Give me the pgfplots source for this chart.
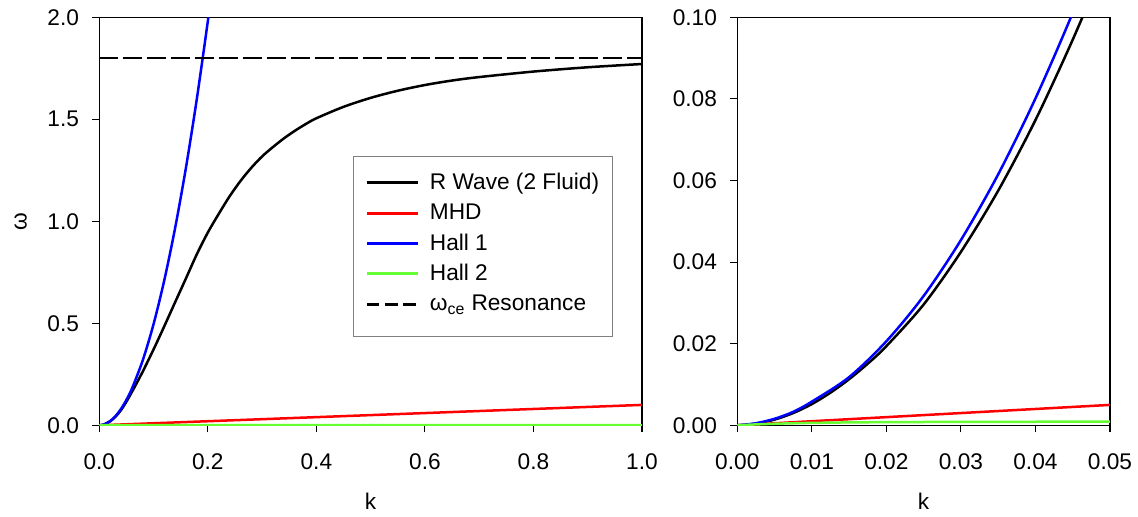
\documentclass[border=0pt]{standalone}
\usepackage{fontspec}
\setmainfont{Liberation Sans}
\usepackage{pgfplots}
\pgfplotsset{compat=1.18}
\definecolor{hallgreen}{RGB}{102,255,51}

\tikzset{curve/.style={line width=1.5pt, smooth}}
\pgfplotsset{
  every axis/.append style={
    font=\fontsize{13.6}{16}\selectfont,
    /pgf/number format/assume math mode=true,
    scale only axis, height=244.8pt,
    axis line style={black, line width=0.7pt},
    tick style={black, line width=0.7pt},
    tick align=outside, tick pos=left,
    major tick length=4.2pt,
    scaled ticks=false,
    clip=true,
    xticklabel style={yshift=-9pt},
    yticklabel style={xshift=-4.5pt},
  },
}

\begin{document}
\begin{tikzpicture}
\useasboundingbox (-59.58pt,-55.02pt) rectangle (623.22pt,255.18pt);

% left panel
\begin{axis}[
  width=325.6pt,
  xmin=0, xmax=1, ymin=0, ymax=2,
  xtick={0,0.2,0.4,0.6,0.8,1.0}, ytick={0,0.5,1.0,1.5,2.0},
  xticklabel style={/pgf/number format/.cd, fixed, fixed zerofill, precision=1},
  yticklabel style={/pgf/number format/.cd, fixed, fixed zerofill, precision=1},
  xlabel={k}, ylabel={ω},
  xlabel style={at={(axis description cs:0.5,-0.187)}, anchor=center},
  ylabel style={at={(axis description cs:-0.145,0.5)}, anchor=center},
  legend style={at={(0.468,0.658)}, anchor=north west, draw=none, fill=none,
                inner xsep=7pt, inner ysep=7.8pt, row sep=3.0pt, column sep=4pt,
                font=\fontsize{13.6}{16}\selectfont},
  legend cell align=left,
  legend image code/.code={\draw[#1] (0pt,0pt) -- (31pt,0pt);},
]
\addplot[curve, black, forget plot] coordinates {
 (0,0) (0.005,0.0014) (0.01,0.0052) (0.02,0.0194) (0.03,0.0425) (0.04,0.0745)
 (0.05,0.116) (0.06,0.163) (0.07,0.212) (0.08,0.263) (0.09,0.317)
 (0.10,0.372) (0.11,0.429) (0.12,0.487) (0.13,0.546) (0.14,0.605)
 (0.16,0.722) (0.18,0.840) (0.20,0.945) (0.22,1.036) (0.24,1.122)
 (0.26,1.197) (0.28,1.262) (0.30,1.318) (0.32,1.364) (0.34,1.406)
 (0.36,1.443) (0.38,1.476) (0.40,1.505) (0.45,1.561) (0.50,1.605)
 (0.55,1.640) (0.60,1.668) (0.65,1.690) (0.70,1.707) (0.80,1.734)
 (0.90,1.755) (1.00,1.771)};
\addplot[line width=1.5pt, red, forget plot] coordinates {(0,0) (1,0.1)};
\addplot[curve, blue, forget plot] coordinates {
 (0,0) (0.005,0.0016) (0.01,0.0058) (0.02,0.0206) (0.03,0.0454) (0.04,0.080)
 (0.05,0.1247) (0.06,0.179) (0.08,0.318) (0.10,0.496) (0.12,0.714)
 (0.14,0.971) (0.16,1.268) (0.18,1.605) (0.20,1.981) (0.21,2.184)};
\addplot[curve, hallgreen, forget plot] coordinates {
 (0,0) (0.005,0.00038) (0.01,0.00059) (0.02,0.00077) (0.05,0.00088)
 (0.2,0.0009) (1,0.0009)};
\addplot[line width=1.5pt, black, dash pattern=on 11pt off 3.4pt, forget plot]
  coordinates {(0,1.8) (1,1.8)};

% legend frame
\draw[black!50, line width=0.5pt]
  (axis description cs:0.468,0.658) rectangle (axis description cs:0.946,0.217);

\addlegendimage{line width=1.8pt, black}
\addlegendentry{R Wave (2 Fluid)}
\addlegendimage{line width=1.8pt, red}
\addlegendentry{MHD}
\addlegendimage{line width=1.8pt, blue}
\addlegendentry{Hall 1}
\addlegendimage{line width=1.8pt, hallgreen}
\addlegendentry{Hall 2}
\addlegendimage{line width=1.8pt, black, dash pattern=on 7.6pt off 3.3pt}
\addlegendentry{ω\textsubscript{ce} Resonance}
\end{axis}

% right panel
\begin{axis}[
  at={(382.8pt,0pt)},
  width=223.6pt,
  xmin=0, xmax=0.05, ymin=0, ymax=0.1,
  xtick={0,0.01,0.02,0.03,0.04,0.05}, ytick={0,0.02,0.04,0.06,0.08,0.10},
  xticklabel style={/pgf/number format/.cd, fixed, fixed zerofill, precision=2},
  yticklabel style={/pgf/number format/.cd, fixed, fixed zerofill, precision=2},
  xlabel={k},
  xlabel style={at={(axis description cs:0.5,-0.187)}, anchor=center},
]
\addplot[curve, black] coordinates {
 (0,0) (0.0025,0.0004) (0.005,0.0014) (0.0075,0.0030) (0.01,0.0052)
 (0.0125,0.0080) (0.015,0.0113) (0.0175,0.0151) (0.02,0.0194)
 (0.025,0.0296) (0.03,0.0425) (0.035,0.0575) (0.04,0.0748)
 (0.045,0.0945) (0.05,0.1160)};
\addplot[line width=1.5pt, red] coordinates {(0,0) (0.05,0.005)};
\addplot[curve, blue] coordinates {
 (0,0) (0.0025,0.0005) (0.005,0.0016) (0.0075,0.0033) (0.01,0.0058)
 (0.015,0.0118) (0.02,0.0206) (0.025,0.0317) (0.03,0.0454)
 (0.035,0.0615) (0.04,0.0801) (0.045,0.1011) (0.05,0.1247)};
\addplot[curve, hallgreen] coordinates {
 (0,0) (0.001,0.000095) (0.0025,0.00022) (0.005,0.00038) (0.0075,0.00050)
 (0.01,0.00059) (0.015,0.00071) (0.02,0.00077) (0.03,0.00084)
 (0.04,0.00087) (0.05,0.00088)};
\end{axis}
\end{tikzpicture}
\end{document}
